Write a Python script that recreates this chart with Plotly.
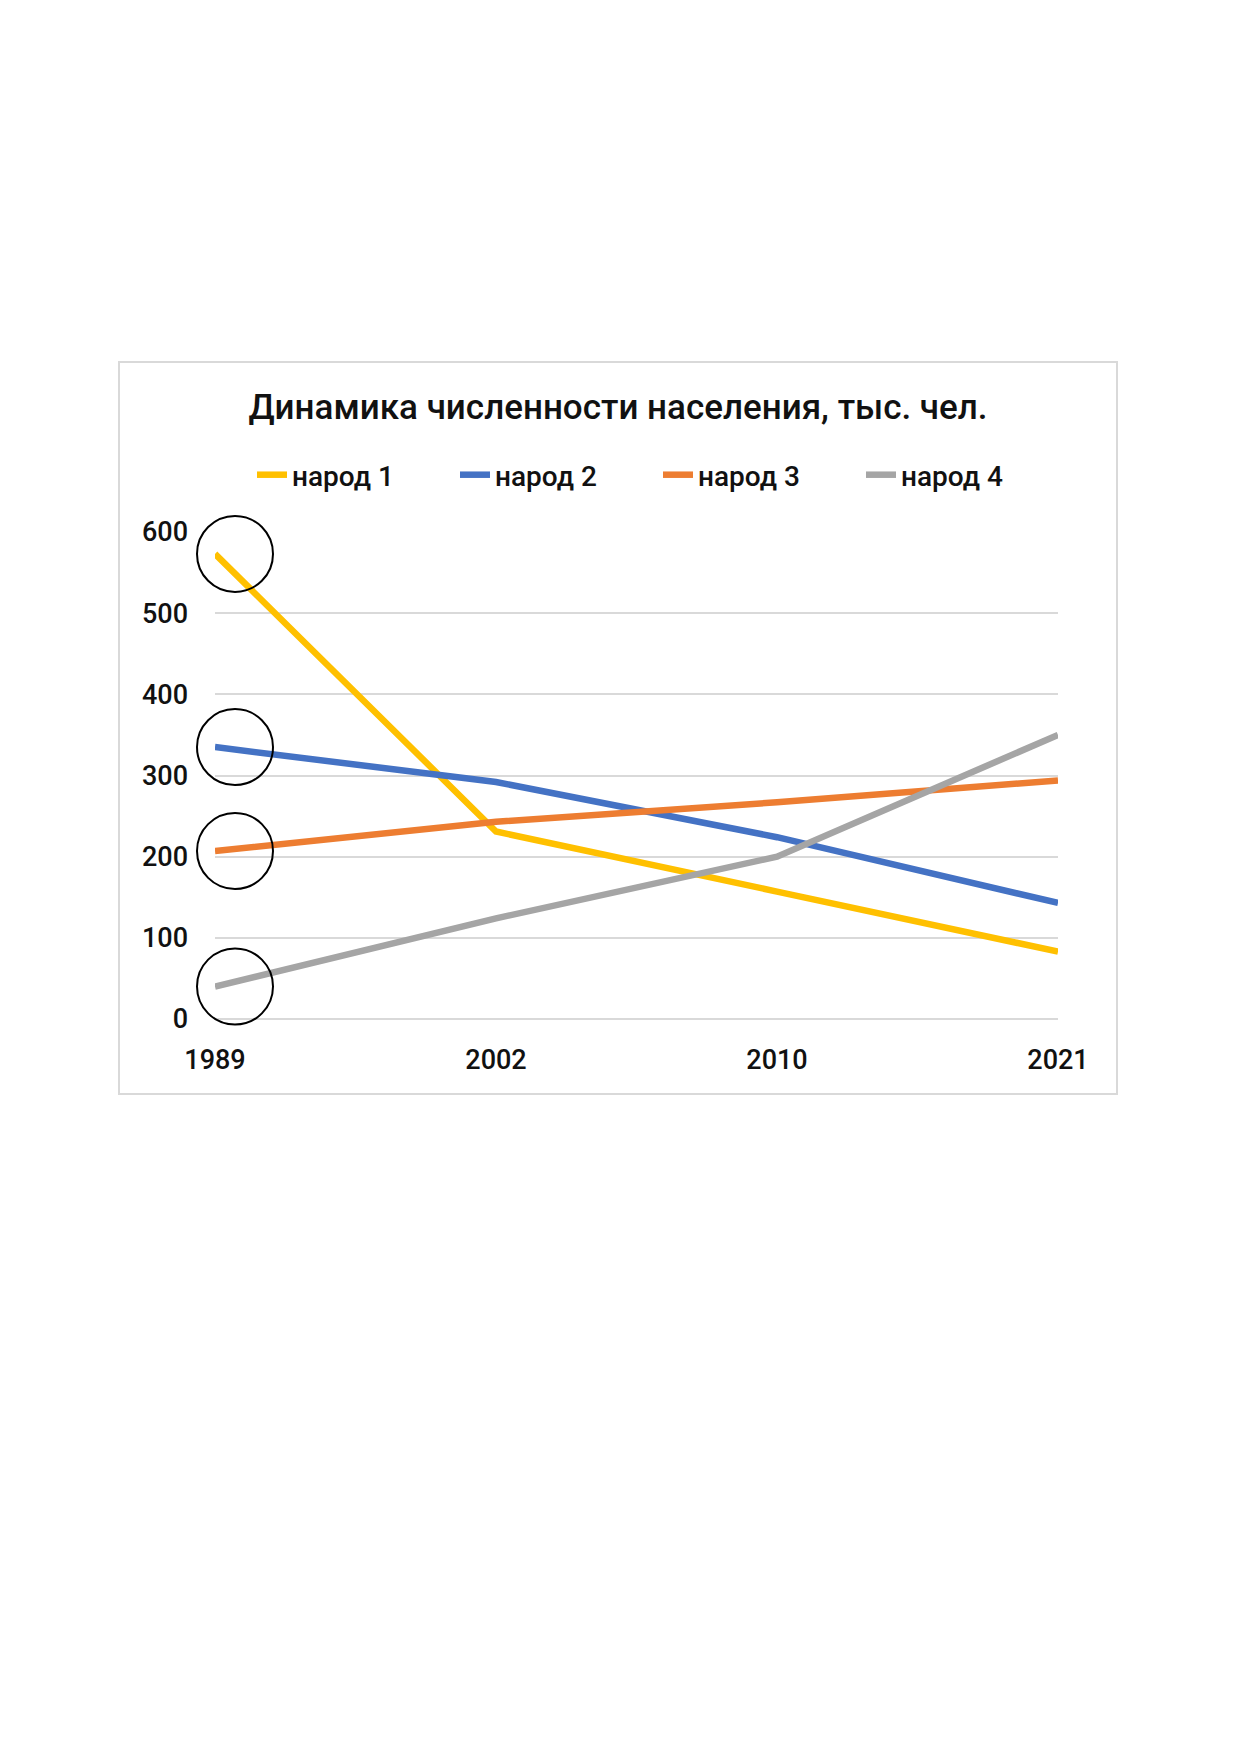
import plotly.graph_objects as go

years = ['1989', '2002', '2010', '2021']
series_names = ['народ 1', 'народ 2', 'народ 3', 'народ 4']
narod_1 = [573, 231, 157, 83]
narod_2 = [335, 292, 224, 143]
narod_3 = [207, 243, 267, 294]
narod_4 = [40, 124, 200, 350]
colors = ['#FFC000', '#4472C4', '#ED7D31', '#A5A5A5']
y_range = [0, 600]

title_text = 'Динамика численности населения, тыс. чел.'
font_family = 'Roboto, Noto Sans, sans-serif'

W, H = 1240, 1754
SHIFT = 8  # the page body adds an 8px margin
left, right, top, bottom = 215 - SHIFT, 1058 - SHIFT, 532 - SHIFT, 1019 - SHIFT
plot_w = right - left
plot_h = bottom - top


def px_x(p):
    return (p - SHIFT - left) / plot_w


def px_y(p):
    return (bottom - (p - SHIFT)) / plot_h


fig = go.Figure()
for name, vals, col in zip(series_names, [narod_1, narod_2, narod_3, narod_4], colors):
    fig.add_trace(go.Scatter(
        x=years, y=vals, name=name, mode='lines',
        line=dict(color=col, width=6.5)
    ))

# frame around the chart
fig.add_shape(type='rect', xref='paper', yref='paper',
              x0=px_x(119), x1=px_x(1117), y0=px_y(1094), y1=px_y(362),
              line=dict(color='#d9d9d9', width=2), layer='below')

# hand-drawn circles around the 1989 values (paper refs so they are not clipped)
for vals in [narod_1, narod_2, narod_3, narod_4]:
    fig.add_shape(type='circle', xref='paper', yref='paper',
                  xsizemode='pixel', ysizemode='pixel',
                  xanchor=0, yanchor=(vals[0] - y_range[0]) / (y_range[1] - y_range[0]),
                  x0=-18, x1=58, y0=-38, y1=38,
                  line=dict(color='black', width=2))

fig.update_layout(
    width=W, height=H,
    paper_bgcolor='white', plot_bgcolor='white',
    margin=dict(l=left, r=W - right, t=top, b=H - bottom, autoexpand=False),
    font=dict(family=font_family, color='#111111'),
    title=dict(text=title_text, xref='container', yref='container',
               x=(618 - SHIFT) / W, y=1 - (407 - SHIFT) / H,
               xanchor='center', yanchor='middle',
               font=dict(size=35, weight=500, color='#111111')),
    legend=dict(orientation='h', xref='paper', yref='paper',
                x=px_x(658), y=px_y(475), xanchor='center', yanchor='middle',
                font=dict(size=28, weight=500), entrywidth=158,
                bgcolor='rgba(0,0,0,0)'),
    xaxis=dict(type='category', range=[0, 3], showgrid=False, zeroline=False,
               showline=False, ticks='', ticklabelstandoff=22,
               tickfont=dict(size=27, weight=500)),
    yaxis=dict(range=y_range, dtick=100, showgrid=True, gridcolor='#d9d9d9',
               gridwidth=2, zeroline=True, zerolinecolor='#d9d9d9', zerolinewidth=2,
               showline=False, ticks='', ticklabelstandoff=26,
               tickfont=dict(size=27, weight=500)),
)

fig.write_html('out.html')
